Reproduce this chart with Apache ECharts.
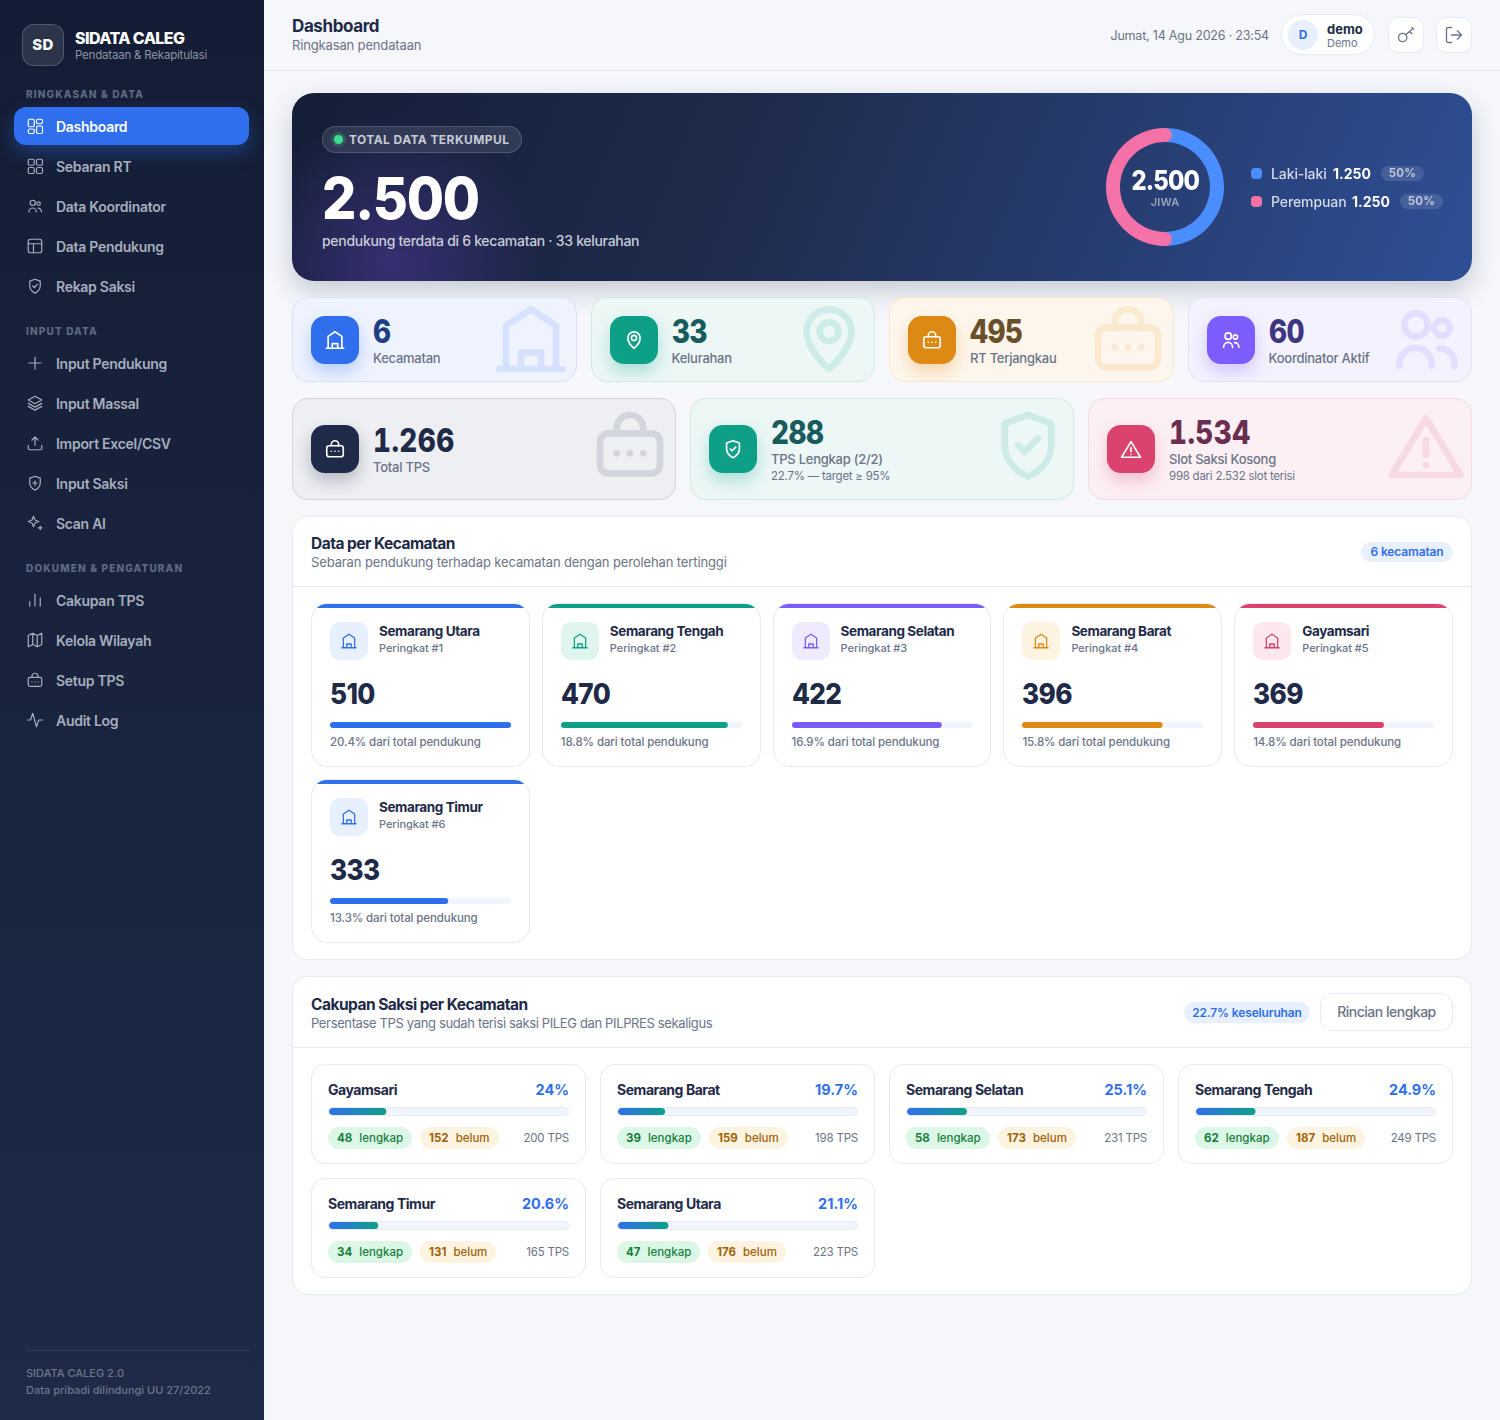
<!DOCTYPE html>
<html lang="id">
<head>
<meta charset="utf-8">
<title>SIDATA CALEG - Dashboard</title>
<script src="https://cdn.jsdelivr.net/npm/echarts@6/dist/echarts.min.js"></script>
<style>
* { box-sizing: border-box; margin: 0; padding: 0; }
html, body { width: 1500px; height: 1420px; overflow: hidden; background: #f5f7fb; }
body { font-family: Inter, "Noto Sans", sans-serif; color: #1e2a47; position: relative; letter-spacing: -.2px; }
.t { position: absolute; white-space: nowrap; line-height: 20px; }
svg { display: block; fill: none; stroke: currentColor; stroke-width: 2; stroke-linecap: round; stroke-linejoin: round; }

#side { position: absolute; left: 0; top: 0; width: 264px; height: 1420px; background: linear-gradient(180deg, #141d35 0%, #1e2a47 100%); }
#logo { position: absolute; left: 22px; top: 24px; width: 42px; height: 42px; border-radius: 12px; background: rgba(255,255,255,.1); border: 1px solid rgba(255,255,255,.18); color: #fff; font-weight: 800; font-size: 15px; text-align: center; line-height: 40px; letter-spacing: .3px; }
.sec { left: 26px; font-size: 10px; font-weight: 800; letter-spacing: 1.15px; color: #5f6a82; }
.nav { position: absolute; left: 14px; width: 235px; height: 38px; border-radius: 12px; color: #a6adbd; }
.nav svg { position: absolute; left: 12px; top: 10px; width: 18px; height: 18px; stroke-width: 1.6; }
.nav span { position: absolute; left: 42px; top: 10px; font-size: 14px; font-weight: 600; line-height: 20px; letter-spacing: -.28px; white-space: nowrap; }
.nav.on { background: #2f6fed; color: #fff; box-shadow: 0 8px 18px rgba(47,111,237,.35); }

#head { position: absolute; left: 264px; top: 0; width: 1236px; height: 71px; border-bottom: 1px solid #e6eaf3; }
.ibtn { position: absolute; top: 17px; width: 36px; height: 36px; background: #fff; border: 1px solid #e6eaf3; border-radius: 10px; color: #6b7488; }
.ibtn svg { position: absolute; left: 7px; top: 7px; width: 20px; height: 20px; stroke-width: 1.6; }

#hero { position: absolute; left: 292px; top: 93px; width: 1180px; height: 188px; border-radius: 22px;
  background: radial-gradient(circle at 100px 172px, rgba(70,54,140,.65) 0, rgba(70,54,140,0) 150px), linear-gradient(112deg, #151e38 0%, #1f2c4d 40%, #2f4f96 100%);
  box-shadow: 0 10px 26px rgba(30,42,71,.22); }
#badge { position: absolute; left: 30px; top: 33px; width: 200px; height: 27px; border-radius: 14px; background: rgba(255,255,255,.1); border: 1px solid rgba(255,255,255,.16); }
#badge i { position: absolute; left: 11px; top: 8px; width: 9px; height: 9px; border-radius: 50%; background: #3fdc93; box-shadow: 0 0 0 3px rgba(63,220,147,.2); }
#donut { position: absolute; left: 808px; top: 29px; width: 130px; height: 130px; }
.dot { position: absolute; left: 959px; width: 11px; height: 11px; border-radius: 4px; }
.pct { position: absolute; height: 15px; width: 43px; border-radius: 8px; background: rgba(255,255,255,.12); color: #bcc5da; font-size: 11.5px; font-weight: 700; text-align: center; line-height: 15px; letter-spacing: .2px; }
.squeeze { transform-origin: left center; }

.kpi { position: absolute; border-radius: 16px; border: 1px solid; overflow: hidden; }
.kbox { position: absolute; left: 18px; width: 48px; height: 48px; border-radius: 14px; color: #fff; }
.kbox svg { position: absolute; left: 13px; top: 13px; width: 22px; height: 22px; stroke-width: 1.8; }
.wm { position: absolute; right: 5px; width: 80px; height: 80px; opacity: .13; }
.kv { left: 80px; font-weight: 800; font-size: 32px; letter-spacing: -.6px; font-feature-settings: "tnum"; transform: scaleX(.87); transform-origin: left center; }
.kl { left: 80px; font-size: 13px; font-weight: 500; color: #6b7488; letter-spacing: -.25px; }
.ks { left: 80px; font-size: 11.5px; color: #6b7488; letter-spacing: -.25px; }

.panel { position: absolute; left: 292px; width: 1180px; background: #fff; border: 1px solid #e6eaf3; border-radius: 16px; }
.panel .line { position: absolute; left: 0; right: 0; height: 1px; background: #e6eaf3; }
.ptitle { left: 18px; font-size: 15.5px; font-weight: 700; letter-spacing: -.52px; }
.psub { left: 18px; font-size: 13px; color: #6b7488; }
.tag { position: absolute; border-radius: 11px; background: #e8f0fe; color: #2f6fed; font-size: 12px; font-weight: 600; text-align: center; letter-spacing: -.15px; }
.grid { position: absolute; left: 18px; width: 1142px; display: grid; }
#gridKec { top: 86px; grid-template-columns: repeat(5, 1fr); grid-auto-rows: 164px; gap: 12px; }
#gridSak { top: 87px; grid-template-columns: repeat(4, 1fr); grid-auto-rows: 100px; gap: 14px; }
.kc { position: relative; background: #fff; border: 1px solid #e6eaf3; border-radius: 16px; overflow: hidden; }
.kc .stripe { position: absolute; left: 0; right: 0; top: 0; height: 4px; }
.kc .ib { position: absolute; left: 18px; top: 18px; width: 38px; height: 38px; border-radius: 10px; }
.kc .ib svg { position: absolute; left: 10px; top: 10px; width: 18px; height: 18px; stroke-width: 1.7; }
.kc .bar { position: absolute; left: 18px; top: 118px; width: 181px; height: 6px; }
.sc { position: relative; background: #fff; border: 1px solid #e6eaf3; border-radius: 14px; }
.sc .bar { position: absolute; left: 16px; top: 42px; width: 241px; height: 9px; border: 1px solid #e6eaf3; border-radius: 5px; overflow: hidden; background: #f1f4fa; }
.chip { position: absolute; top: 62px; height: 22px; line-height: 22px; border-radius: 11px; font-size: 11.5px; font-weight: 500; padding: 0 9px; white-space: nowrap; letter-spacing: 0; }
.chip b { font-weight: 700; margin-right: 4px; }
.chip.g { background: #dcf7e6; color: #15803d; }
.chip.o { background: #fdf3e1; color: #a16207; }
</style>
</head>
<body>
<div id="side">
  <div id="logo">SD</div>
  <div class="t" style="left:75px;top:28px;font-size:16px;font-weight:800;color:#fff;letter-spacing:-.6px">SIDATA CALEG</div>
  <div class="t" style="left:75px;top:45px;font-size:11.5px;color:#8b93a6;letter-spacing:-.2px">Pendataan &amp; Rekapitulasi</div>
  <div id="navList"></div>
  <div style="position:absolute;left:26px;top:1350px;width:223px;height:1px;background:rgba(255,255,255,.08)"></div>
  <div class="t" style="left:26px;top:1363px;font-size:11px;font-weight:500;color:#6d768c;letter-spacing:0">SIDATA CALEG 2.0</div>
  <div class="t" style="left:26px;top:1380px;font-size:11px;font-weight:500;color:#6d768c;letter-spacing:0">Data pribadi dilindungi UU 27/2022</div>
</div>

<div id="head">
  <div class="t" style="left:28px;top:16px;font-size:17px;font-weight:700;letter-spacing:-.4px">Dashboard</div>
  <div class="t" style="left:28px;top:35px;font-size:13px;color:#6b7488;letter-spacing:-.15px">Ringkasan pendataan</div>
  <div class="t" style="right:231px;top:26px;font-size:12.5px;color:#6b7488;letter-spacing:-.2px">Jumat, 14 Agu 2026 · 23:54</div>
  <div style="position:absolute;left:1017px;top:14px;width:94px;height:41px;background:#fff;border:1px solid #e6eaf3;border-radius:21px">
    <div style="position:absolute;left:6px;top:5px;width:30px;height:30px;border-radius:50%;background:#e8effd;color:#2f6fed;font-size:12px;font-weight:700;text-align:center;line-height:30px">D</div>
    <div class="t" style="left:45px;top:4px;font-size:13px;font-weight:700;letter-spacing:0">demo</div>
    <div class="t" style="left:45px;top:18px;font-size:11px;color:#6b7488;letter-spacing:0">Demo</div>
  </div>
  <div class="ibtn" style="left:1124px"><svg viewBox="0 0 24 24"><circle cx="8" cy="15" r="5"/><path d="M12 11.500l7-6M16 8l3 2M19 3l2 2"/></svg></div>
  <div class="ibtn" style="left:1172px"><svg viewBox="0 0 24 24"><path d="M9 21H5a2 2 0 0 1-2-2V5a2 2 0 0 1 2-2h4M16 17l5-5-5-5M21 12H9"/></svg></div>
</div>

<div id="hero">
  <div id="badge"><i></i><div class="t" style="left:26px;top:3px;font-size:12px;font-weight:700;color:#c5cad6;letter-spacing:.42px">TOTAL DATA TERKUMPUL</div></div>
  <div class="t squeeze" id="heroTotal" style="left:30px;top:73px;font-size:58px;line-height:64px;font-weight:800;color:#fff;letter-spacing:-1.3px;transform:scaleX(.93)"></div>
  <div class="t" style="left:30px;top:138px;font-size:14px;font-weight:500;color:#c8cdd9;letter-spacing:-.3px">pendukung terdata di 6 kecamatan · 33 kelurahan</div>
  <div id="donut"></div>
  <div style="position:absolute;left:808px;width:130px;top:74px;text-align:center"><span id="donutTotal" style="display:inline-block;font-size:27px;line-height:28px;font-weight:800;color:#fff;letter-spacing:-1px;transform:scaleX(.88)"></span></div>
  <div class="t" style="left:808px;width:130px;text-align:center;top:99px;font-size:11px;font-weight:600;color:#9aa3b8;letter-spacing:.2px">JIWA</div>
  <div id="genderRows"></div>
</div>

<div id="kpis"></div>

<div class="panel" style="top:516px;height:444px">
  <div class="t ptitle" style="top:17px">Data per Kecamatan</div>
  <div class="t psub" style="top:35px;letter-spacing:-.12px">Sebaran pendukung terhadap kecamatan dengan perolehan tertinggi</div>
  <div class="tag" style="left:1068px;top:25px;width:92px;height:20px;line-height:20px">6 kecamatan</div>
  <div class="line" style="top:69px"></div>
  <div class="grid" id="gridKec"></div>
</div>

<div class="panel" style="top:976px;height:319px">
  <div class="t ptitle" style="top:18px">Cakupan Saksi per Kecamatan</div>
  <div class="t psub" style="top:36px;letter-spacing:-.36px">Persentase TPS yang sudah terisi saksi PILEG dan PILPRES sekaligus</div>
  <div class="tag" style="left:891px;top:25px;width:126px;height:21px;line-height:21px">22.7% keseluruhan</div>
  <div style="position:absolute;left:1027px;top:16px;width:133px;height:38px;border:1px solid #e6eaf3;border-radius:12px;text-align:center;line-height:36px;font-size:14px;color:#6b7488;font-weight:500;letter-spacing:-.5px">Rincian lengkap</div>
  <div class="line" style="top:70px"></div>
  <div class="grid" id="gridSak"></div>
</div>

<script>
// data hero
const totalPendukung = 2500
const genderNames = ['Laki-laki', 'Perempuan']
const genderValues = [1250, 1250]
const genderPct = ['50%', '50%']

// data kartu ringkasan
const kpiTop = ['6', '33', '495', '60']
const kpiTopLabel = ['Kecamatan', 'Kelurahan', 'RT Terjangkau', 'Koordinator Aktif']
const kpiBottom = ['1.266', '288', '1.534']
const kpiBottomLabel = ['Total TPS', 'TPS Lengkap (2/2)', 'Slot Saksi Kosong']
const kpiBottomSub = ['', '22.7% — target ≥ 95%', '998 dari 2.532 slot terisi']

// data per kecamatan
const kecNames = ['Semarang Utara', 'Semarang Tengah', 'Semarang Selatan', 'Semarang Barat', 'Gayamsari', 'Semarang Timur']
const kecValues = [510, 470, 422, 396, 369, 333]
const kecShare = ['20.4%', '18.8%', '16.9%', '15.8%', '14.8%', '13.3%']

// data cakupan saksi
const sakNames = ['Gayamsari', 'Semarang Barat', 'Semarang Selatan', 'Semarang Tengah', 'Semarang Timur', 'Semarang Utara']
const sakPct = [24, 19.7, 25.1, 24.9, 20.6, 21.1]
const sakDone = [48, 39, 58, 62, 34, 47]
const sakTodo = [152, 159, 173, 187, 131, 176]
const sakTps = [200, 198, 231, 249, 165, 223]

// menu
const navSections = ['RINGKASAN & DATA', 'INPUT DATA', 'DOKUMEN & PENGATURAN']
const navSectionY = [84, 321, 558]
const navItems = [
    ['Dashboard', 'dash', 108], ['Sebaran RT', 'grid', 148], ['Data Koordinator', 'users', 188], ['Data Pendukung', 'table', 228], ['Rekap Saksi', 'shield', 268],
    ['Input Pendukung', 'plus', 345], ['Input Massal', 'layers', 385], ['Import Excel/CSV', 'upload', 425], ['Input Saksi', 'shieldPlus', 465], ['Scan AI', 'spark', 505],
    ['Cakupan TPS', 'bars', 582], ['Kelola Wilayah', 'map', 622], ['Setup TPS', 'lock', 662], ['Audit Log', 'pulse', 702]
]

const icons = {
    dash: '<rect x="3" y="3" width="8" height="10" rx="2"/><rect x="14" y="3" width="8" height="6" rx="2"/><rect x="14" y="12" width="8" height="10" rx="2"/><rect x="3" y="16" width="8" height="6" rx="2"/>',
    grid: '<rect x="3" y="3" width="8" height="8" rx="2"/><rect x="14" y="3" width="8" height="8" rx="2"/><rect x="3" y="14" width="8" height="8" rx="2"/><rect x="14" y="14" width="8" height="8" rx="2"/>',
    users: '<circle cx="9" cy="7.800" r="3.500"/><circle cx="16.800" cy="8.700" r="2.300"/><path d="M4 20v-.5a4.850 4.850 0 0 1 9.700 0v.5M16 14.800a4.500 4.500 0 0 1 4.500 4.500v.7"/>',
    table: '<rect x="3" y="3" width="18" height="18" rx="3"/><path d="M3 9h18M10 9v12"/>',
    shield: '<path d="M12 3l7 2.500v6.500c0 4.500-3 7.500-7 9.500-4-2-7-5-7-9.500V5.500z"/><path d="M9 12l2 2 4-4"/>',
    shieldPlus: '<path d="M12 3l7 2.500v6.500c0 4.500-3 7.500-7 9.500-4-2-7-5-7-9.500V5.500z"/><path d="M12 9v6M9 12h6"/>',
    plus: '<path d="M12 4v16M4 12h16"/>',
    layers: '<path d="M12 3l9 5-9 5-9-5zM3 12.500l9 5 9-5M3 16.500l9 5 9-5"/>',
    upload: '<path d="M12 15V4M8 8l4-4 4 4M3 15v4a2 2 0 0 0 2 2h14a2 2 0 0 0 2-2v-4"/>',
    spark: '<path d="M10 3l2 5 5 2-5 2-2 5-2-5-5-2 5-2zM19 16v5M16.500 18.500h5"/>',
    bars: '<path d="M5 20v-6M12 20V4M19 20V9"/>',
    map: '<path d="M3 6l6-3 6 3 6-3v15l-6 3-6-3-6 3zM9 3v15M15 6v15"/>',
    lock: '<rect x="3" y="8.500" width="18" height="12" rx="2.500"/><path d="M8 8.500V7a4 4 0 0 1 8 0v1.500M8 14.500h.01M12 14.500h.01M16 14.500h.01"/>',
    pulse: '<path d="M2 12h4l3-9 5 18 3-9h5"/>',
    home: '<path d="M4.500 21V8L12 3l7.500 5v13M2.500 21h19M9 21v-5h6v5"/>',
    pin: '<path d="M12 21s6.700-5.500 6.700-11.200a6.700 6.700 0 1 0-13.400 0C5.300 15.500 12 21 12 21z"/><circle cx="12" cy="9.800" r="2.800"/>',
    warn: '<path d="M12 4L22.300 21H1.700zM12 10.500v4.500M12 18v.01"/>',
}
const svg = name => '<svg viewBox="0 0 24 24">' + icons[name] + '</svg>'

// warna
const topStyle = [
    { bg: '#eff3fe', line: '#d6e2fb', box: '#2f6fed', val: '#1e3f85', icon: 'home', glow: '47,111,237' },
    { bg: '#ecf7f6', line: '#cdeae3', box: '#0ea087', val: '#175b5c', icon: 'pin', glow: '14,160,135' },
    { bg: '#fef6ec', line: '#f8e7cd', box: '#dc8a14', val: '#6a4f2b', icon: 'lock', glow: '220,138,20' },
    { bg: '#f3f2fe', line: '#e3e0fb', box: '#7c5cfc', val: '#3e3682', icon: 'users', glow: '124,92,252' },
]
const bottomStyle = [
    { bg: '#eeeff2', line: '#d2d5dc', box: '#1e2a47', val: '#1e2a47', icon: 'lock', glow: '30,42,71' },
    { bg: '#ecf7f6', line: '#cdeae3', box: '#0ea087', val: '#175b5c', icon: 'shield', glow: '14,160,135' },
    { bg: '#fcf0f4', line: '#f8d8e2', box: '#d9436e', val: '#6a2f50', icon: 'warn', glow: '217,67,110' },
]
const kecColors = ['#2f6fed', '#0ea087', '#7c5cfc', '#dc8a14', '#d9436e', '#2f6fed']
const kecTints = ['#e8effd', '#dff5ee', '#efebff', '#fdf3e1', '#fde8ee', '#e8effd']

const fmt = v => String(v).replace(/\B(?=(\d{3})+$)/g, '.')
const byId = id => document.getElementById(id)

// sidebar
let navHtml = ''
navSections.forEach((s, i) => {
    navHtml += `<div class="t sec" style="top:${navSectionY[i]}px">${s.replace('&', '&amp;')}</div>`
})
navItems.forEach((it, i) => {
    navHtml += `<div class="nav ${i === 0 ? 'on' : ''}" style="top:${it[2] - 1}px">${svg(it[1])}<span>${it[0]}</span></div>`
})
byId('navList').innerHTML = navHtml

// hero
byId('heroTotal').textContent = fmt(totalPendukung)
byId('donutTotal').textContent = fmt(totalPendukung)
const genderColors = ['#4a8dff', '#f472a8']
const genderLayout = [{ y: 75, num: 1041, pill: 1089 }, { y: 103, num: 1060, pill: 1108 }]
byId('genderRows').innerHTML = genderNames.map((n, i) => {
    const l = genderLayout[i]
    return `<div class="dot" style="top:${l.y}px;background:${genderColors[i]}"></div>
    <div class="t" style="left:979px;top:${l.y - 4}px;font-size:14px;font-weight:500;color:#d5daea;letter-spacing:-.1px">${n}</div>
    <div class="t" style="left:${l.num}px;top:${l.y - 4}px;font-size:14px;font-weight:700;color:#fff;letter-spacing:0">${fmt(genderValues[i])}</div>
    <div class="pct" style="left:${l.pill}px;top:${l.y - 2}px">${genderPct[i]}</div>`
}).join('')

// kartu ringkasan
let kpiHtml = ''
const kpiCard = (left, top, w, h, st, val, label, sub, boxTop, valTop, labelTop, wmTop) => `
    <div class="kpi" style="left:${left}px;top:${top}px;width:${w}px;height:${h}px;background:${st.bg};border-color:${st.line}">
      <div class="wm" style="top:${wmTop}px;color:${st.box}">${svg(st.icon)}</div>
      <div class="kbox" style="top:${boxTop}px;background:${st.box};box-shadow:0 8px 16px rgba(${st.glow},.28)">${svg(st.icon)}</div>
      <div class="t kv" style="top:${valTop}px;color:${st.val};line-height:32px;${val.includes('.') ? 'letter-spacing:.5px' : ''}">${val}</div>
      <div class="t kl" style="top:${labelTop}px">${label}</div>
      ${sub ? `<div class="t ks" style="top:${labelTop + 17}px">${sub}</div>` : ''}
    </div>`
kpiTop.forEach((v, i) => {
    kpiHtml += kpiCard(292 + i * 298.5, 297, 284.5, 85, topStyle[i], v, kpiTopLabel[i], '', 18, 18, 50, 1)
})
kpiBottom.forEach((v, i) => {
    const hasSub = kpiBottomSub[i] !== ''
    kpiHtml += kpiCard(292 + i * 398, 398, 384, 102, bottomStyle[i], v, kpiBottomLabel[i], kpiBottomSub[i], 26, hasSub ? 18 : 26, hasSub ? 50 : 58, 6)
})
byId('kpis').innerHTML = kpiHtml

// kartu kecamatan
byId('gridKec').innerHTML = kecNames.map((n, i) => `
    <div class="kc">
      <div class="stripe" style="background:${kecColors[i]}"></div>
      <div class="ib" style="background:${kecTints[i]};color:${kecColors[i]}">${svg('home')}</div>
      <div class="t" style="left:67px;top:17px;font-size:13.5px;font-weight:700;letter-spacing:-.4px">${n}</div>
      <div class="t" style="left:67px;top:34px;font-size:11px;font-weight:500;color:#6b7488;letter-spacing:-.05px">Peringkat #${i + 1}</div>
      <div class="t squeeze" style="left:18px;top:75px;font-size:29px;line-height:30px;font-weight:800;letter-spacing:-.7px;transform:scaleX(.9)">${kecValues[i]}</div>
      <div class="bar" id="kecBar${i}"></div>
      <div class="t" style="left:18px;top:128px;font-size:11.5px;font-weight:500;color:#6b7488;letter-spacing:-.1px">${kecShare[i]} dari total pendukung</div>
    </div>`).join('')

// kartu saksi
byId('gridSak').innerHTML = sakNames.map((n, i) => `
    <div class="sc">
      <div class="t" style="left:16px;top:15px;font-size:14px;font-weight:700;letter-spacing:-.45px">${n}</div>
      <div class="t" style="right:16px;top:15px;font-size:14.5px;font-weight:700;color:#2f6fed;letter-spacing:0">${sakPct[i]}%</div>
      <div class="bar" id="sakBar${i}"></div>
      <div class="chip g" style="left:16px"><b>${sakDone[i]}</b> lengkap</div>
      <div class="chip o"><b>${sakTodo[i]}</b> belum</div>
      <div class="t" style="right:16px;top:63px;font-size:11.5px;color:#6b7488;letter-spacing:-.2px">${sakTps[i]} TPS</div>
    </div>`).join('')
document.querySelectorAll('.chip.o').forEach(el => {
    const g = el.previousElementSibling
    el.style.left = (16 + g.offsetWidth + 8) + 'px'
})

// grafik
const renderBar = (el, value, max, color, track, radius) => {
    const chart = echarts.init(el)
    chart.setOption({
        animation: false,
        grid: { left: 0, right: 0, top: 0, bottom: 0 },
        xAxis: { type: 'value', min: 0, max: max, show: false },
        yAxis: { type: 'category', data: [''], show: false },
        series: [{
            type: 'bar',
            data: [value],
            barWidth: '100%',
            silent: true,
            showBackground: true,
            backgroundStyle: { color: track, borderRadius: radius },
            itemStyle: { color: color, borderRadius: radius }
        }]
    })
}
const kecMax = Math.max(...kecValues)
kecValues.forEach((v, i) => {
    renderBar(byId('kecBar' + i), v, kecMax, kecColors[i], '#f1f4fa', 3)
})
sakPct.forEach((v, i) => {
    const grad = new echarts.graphic.LinearGradient(0, 0, 1, 0, [
        { offset: 0, color: '#2f6fed' },
        { offset: 1, color: '#0ea087' }
    ])
    renderBar(byId('sakBar' + i), v, 100, grad, '#f1f4fa', 4)
})

const donut = echarts.init(byId('donut'))
donut.setOption({
    animation: false,
    polar: { center: ['50%', '50%'], radius: [45, 59] },
    angleAxis: { type: 'value', min: 0, max: totalPendukung, startAngle: 90, show: false },
    radiusAxis: { type: 'category', data: [''], show: false },
    series: genderNames.map((n, i) => ({
        name: n,
        type: 'bar',
        coordinateSystem: 'polar',
        stack: 'jiwa',
        roundCap: true,
        barWidth: '100%',
        data: [genderValues[i]],
        itemStyle: { color: genderColors[i] }
    }))
})
</script>
</body>
</html>
